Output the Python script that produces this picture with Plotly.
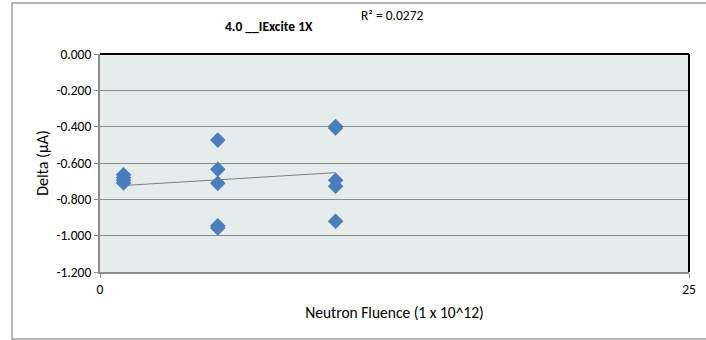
import numpy as np
import plotly.graph_objects as go

# Data
fluence = [1, 1, 1, 1, 5, 5, 5, 5, 5, 10, 10, 10, 10, 10]
delta = [-0.665, -0.680, -0.695, -0.710,
         -0.474, -0.635, -0.712, -0.945, -0.958,
         -0.399, -0.407, -0.695, -0.728, -0.921]
title_text = "4.0 __IExcite 1X"
r2_label = "R² = 0.0272"
x_title = "Neutron Fluence (1 x 10^12)"
y_title = "Delta (µA)"
y_ticks = [0.0, -0.2, -0.4, -0.6, -0.8, -1.0, -1.2]
x_ticks = [0, 25]

FONT = "Carlito, 'Liberation Sans Narrow', 'Open Sans', sans-serif"

x = np.array(fluence, dtype=float)
y = np.array(delta, dtype=float)
slope, intercept = np.polyfit(x, y, 1)
tx = np.array([x.min(), x.max()])
ty = slope * tx + intercept

fig = go.Figure()
fig.add_trace(go.Scatter(x=tx, y=ty, mode="lines",
                         line=dict(color="#808080", width=1), hoverinfo="skip"))
fig.add_trace(go.Scatter(x=fluence, y=delta, mode="markers",
                         marker=dict(symbol="diamond", size=12, color="#4A7EBB",
                                     line=dict(width=0))))

L, R, T, B = 100, 10, 54, 68
W, H = 706, 340
pw, ph = W - L - R, H - T - B

def px(xp):
    return (xp - L) / pw

def py(yp):
    return (H - B - yp) / ph

fig.update_layout(
    width=W, height=H,
    margin=dict(l=L, r=R, t=T, b=B),
    paper_bgcolor="white",
    plot_bgcolor="#E6ECEC",
    showlegend=False,
    font=dict(family=FONT, size=13, color="#000000"),
    xaxis=dict(range=[0, 25], tickvals=x_ticks, ticktext=[str(v) for v in x_ticks],
               showgrid=False, zeroline=False, showline=True, linecolor="#8C8C8C",
               linewidth=2, ticks="outside", ticklen=4, tickcolor="#8C8C8C",
               tickfont=dict(size=13.5, family=FONT),
               title=dict(text=x_title, font=dict(size=15.5, family=FONT), standoff=10)),
    yaxis=dict(range=[-1.2, 0.0], tickvals=y_ticks, ticktext=[f"{v:.3f}" for v in y_ticks],
               showgrid=True, gridcolor="#8C8C8C", gridwidth=1, zeroline=False,
               showline=True, linecolor="#8C8C8C", linewidth=2,
               ticks="outside", ticklen=4, tickcolor="#8C8C8C",
               tickfont=dict(size=13.5, family=FONT),
               title=dict(text=y_title, font=dict(size=16, family=FONT), standoff=4)),
    shapes=[
        dict(type="line", xref="paper", yref="paper", x0=0, x1=1, y0=1, y1=1,
             line=dict(color="#000000", width=2)),
        dict(type="line", xref="paper", yref="paper", x0=1, x1=1, y0=0, y1=1,
             line=dict(color="#000000", width=2)),
        dict(type="rect", xref="paper", yref="paper",
             x0=px(11), x1=px(780), y0=py(339), y1=py(3),
             line=dict(color="#A0A0A0", width=1.5), layer="below"),
    ],
    annotations=[
        dict(text=f"<b>{title_text}</b>", xref="paper", yref="paper",
             x=px(271), y=py(27), xanchor="center", yanchor="middle",
             showarrow=False, font=dict(size=13.5, family=FONT)),
        dict(text=r2_label, xref="paper", yref="paper",
             x=px(362), y=py(16), xanchor="left", yanchor="middle",
             showarrow=False, font=dict(size=13.5, family=FONT)),
    ],
)

fig.write_html("out.html")
